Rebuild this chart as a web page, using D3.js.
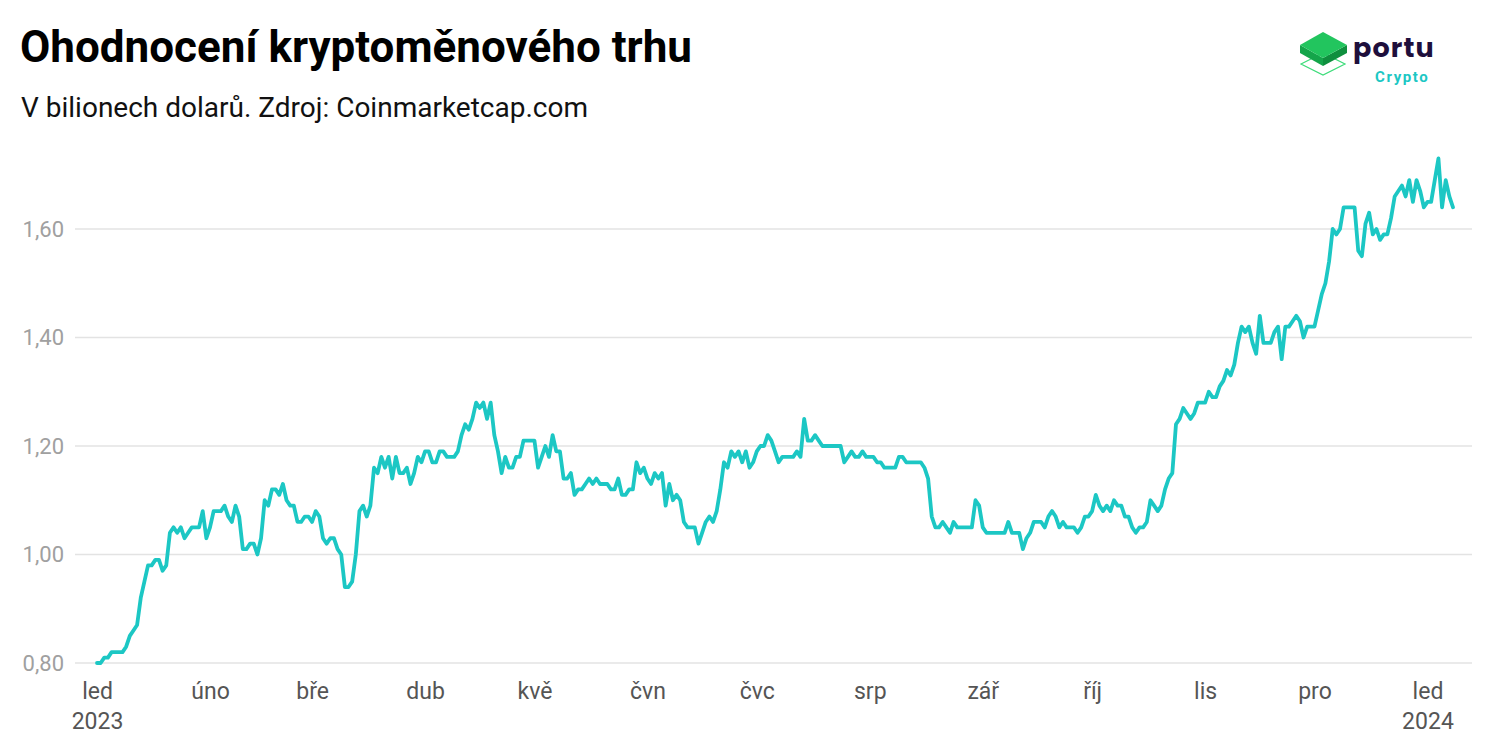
<!DOCTYPE html>
<html><head><meta charset="utf-8">
<script src="https://cdn.jsdelivr.net/npm/d3@7"></script>
<style>
body{margin:0;background:#fff;}
svg{display:block;font-family:Roboto,"Noto Sans",sans-serif;}
</style></head>
<body><svg id="c" width="1496" height="753"></svg>
<script>
// Daily market cap (trillion USD), starting 1 Jan 2023
const startDate = "2023-01-01";
const values = [
0.80,0.80,0.81,0.81,0.82,0.82,0.82,0.82,0.83,0.85,0.86,0.87,0.92,0.95,0.98,0.98,0.99,0.99,0.97,0.98,
1.04,1.05,1.04,1.05,1.03,1.04,1.05,1.05,1.05,1.08,1.03,1.05,1.08,1.08,1.08,1.09,1.07,1.06,1.09,1.07,
1.01,1.01,1.02,1.02,1.00,1.03,1.10,1.09,1.12,1.12,1.11,1.13,1.10,1.09,1.09,1.06,1.06,1.07,1.07,1.06,
1.08,1.07,1.03,1.02,1.03,1.03,1.01,1.00,0.94,0.94,0.95,1.00,1.08,1.09,1.07,1.09,1.16,1.15,1.18,1.16,
1.18,1.14,1.18,1.15,1.15,1.16,1.13,1.15,1.18,1.17,1.19,1.19,1.17,1.17,1.19,1.19,1.18,1.18,1.18,1.19,
1.22,1.24,1.23,1.25,1.28,1.27,1.28,1.25,1.28,1.22,1.19,1.15,1.18,1.16,1.16,1.18,1.18,1.21,1.21,1.21,
1.21,1.16,1.18,1.20,1.18,1.22,1.19,1.19,1.14,1.14,1.15,1.11,1.12,1.12,1.13,1.14,1.13,1.14,1.13,1.13,
1.13,1.12,1.12,1.14,1.11,1.11,1.12,1.12,1.17,1.15,1.16,1.14,1.13,1.15,1.14,1.15,1.09,1.13,1.10,1.11,
1.10,1.06,1.05,1.05,1.05,1.02,1.04,1.06,1.07,1.06,1.08,1.12,1.17,1.16,1.19,1.18,1.19,1.17,1.19,1.16,
1.17,1.19,1.20,1.20,1.22,1.21,1.19,1.17,1.18,1.18,1.18,1.18,1.19,1.18,1.25,1.21,1.21,1.22,1.21,1.20,
1.20,1.20,1.20,1.20,1.20,1.17,1.18,1.19,1.18,1.18,1.19,1.18,1.18,1.18,1.17,1.17,1.16,1.16,1.16,1.16,
1.18,1.18,1.17,1.17,1.17,1.17,1.17,1.16,1.14,1.07,1.05,1.05,1.06,1.05,1.04,1.06,1.05,1.05,1.05,1.05,
1.05,1.10,1.09,1.05,1.04,1.04,1.04,1.04,1.04,1.04,1.06,1.04,1.04,1.04,1.01,1.03,1.04,1.06,1.06,1.06,
1.05,1.07,1.08,1.07,1.05,1.06,1.05,1.05,1.05,1.04,1.05,1.07,1.07,1.08,1.11,1.09,1.08,1.09,1.08,1.10,
1.09,1.09,1.07,1.07,1.05,1.04,1.05,1.05,1.06,1.10,1.09,1.08,1.09,1.12,1.14,1.15,1.24,1.25,1.27,1.26,
1.25,1.26,1.28,1.28,1.28,1.30,1.29,1.29,1.31,1.32,1.34,1.33,1.35,1.39,1.42,1.41,1.42,1.39,1.37,1.44,
1.39,1.39,1.39,1.41,1.42,1.36,1.42,1.42,1.43,1.44,1.43,1.40,1.42,1.42,1.42,1.45,1.48,1.50,1.54,1.60,
1.59,1.60,1.64,1.64,1.64,1.64,1.56,1.55,1.61,1.63,1.59,1.60,1.58,1.59,1.59,1.62,1.66,1.67,1.68,1.66,
1.69,1.65,1.69,1.67,1.64,1.65,1.65,1.69,1.73,1.64,1.69,1.66,1.64
];
const yTicks = [0.8, 1.0, 1.2, 1.4, 1.6];
const monthLabels = ["led","úno","bře","dub","kvě","čvn","čvc","srp","zář","říj","lis","pro","led"];
const monthDates = ["2023-01-01","2023-02-01","2023-03-01","2023-04-01","2023-05-01","2023-06-01","2023-07-01","2023-08-01","2023-09-01","2023-10-01","2023-11-01","2023-12-01","2024-01-01"];
const yearLabels = {"2023-01-01":"2023","2024-01-01":"2024"};

const parse = d3.utcParse("%Y-%m-%d");
const t0 = parse(startDate);
const data = values.map((v,i)=>({date:d3.utcDay.offset(t0,i), value:v}));

const svg = d3.select("#c");
const x = d3.scaleUtc().domain([t0, data[data.length-1].date]).range([97,1453]);
const y = d3.scaleLinear().domain([0.8,1.6]).range([663,229]);

// title
svg.append("text").attr("x",20).attr("y",62).attr("font-size",44).attr("font-weight",700)
  .attr("fill","#000").text("Ohodnocení kryptoměnového trhu");
svg.append("text").attr("x",21).attr("y",117).attr("font-size",28).attr("fill","#111")
  .text("V bilionech dolarů. Zdroj: Coinmarketcap.com");

// grid
const grid = svg.append("g");
grid.selectAll("line").data(yTicks).join("line")
  .attr("x1",75).attr("x2",1472).attr("y1",d=>y(d)).attr("y2",d=>y(d))
  .attr("stroke","#e3e3e3").attr("stroke-width",1.5);

// y axis
const yAxis = svg.append("g").attr("transform","translate(64,0)")
  .call(d3.axisLeft(y).tickValues(yTicks).tickSize(0).tickPadding(0)
    .tickFormat(d=>d3.format(".2f")(d).replace(".",",")));
yAxis.select(".domain").remove();
yAxis.selectAll("text").attr("font-size",22).attr("fill","#a0a0a0").attr("font-family","Roboto");

// x axis
const xAxis = svg.append("g").attr("transform","translate(0,699)")
  .call(d3.axisBottom(x).tickValues(monthDates.map(parse)).tickSize(0).tickPadding(0)
    .tickFormat((d,i)=>monthLabels[i]));
xAxis.select(".domain").remove();
xAxis.selectAll("text").attr("font-size",23).attr("fill","#555").attr("font-family","Roboto").attr("dy",0);
xAxis.selectAll(".tick").each(function(d){
  const k = d3.utcFormat("%Y-%m-%d")(d);
  if(yearLabels[k]) d3.select(this).append("text").attr("y",30).attr("dy",0)
    .attr("font-size",23).attr("fill","#555").attr("text-anchor","middle").attr("font-family","Roboto").text(yearLabels[k]);
});

// line
svg.append("path").datum(data)
  .attr("fill","none").attr("stroke","#1cc7c4").attr("stroke-width",3.8)
  .attr("stroke-linejoin","round").attr("stroke-linecap","round")
  .attr("d", d3.line().x(d=>x(d.date)).y(d=>y(d.value)));

// logo
const lg = svg.append("g");
lg.append("path").attr("d","M1301,64 L1323,53 L1345,64 L1323,75 Z").attr("fill","none").attr("stroke","#3ddc7a").attr("stroke-width",1.2);
lg.append("path").attr("d","M1300,45 L1300,53 L1323,66 L1323,58 Z").attr("fill","#14a54a");
lg.append("path").attr("d","M1323,58 L1323,66 L1347,53 L1347,45 Z").attr("fill","#0f8f3e");
lg.append("path").attr("d","M1300,45 L1323,32 L1347,45 L1323,58 Z").attr("fill","#22c55e");
lg.append("text").attr("x",1353).attr("y",57).attr("font-size",27).attr("font-weight",700)
  .attr("fill","#1e0f3c").attr("font-family","Poppins,Roboto,sans-serif").attr("letter-spacing",1.1).text("portu");
lg.append("text").attr("x",1375).attr("y",82).attr("font-size",15).attr("font-weight",700)
  .attr("fill","#1cc7c4").attr("font-family","Roboto").attr("letter-spacing",1.6).text("Crypto");
</script></body></html>
